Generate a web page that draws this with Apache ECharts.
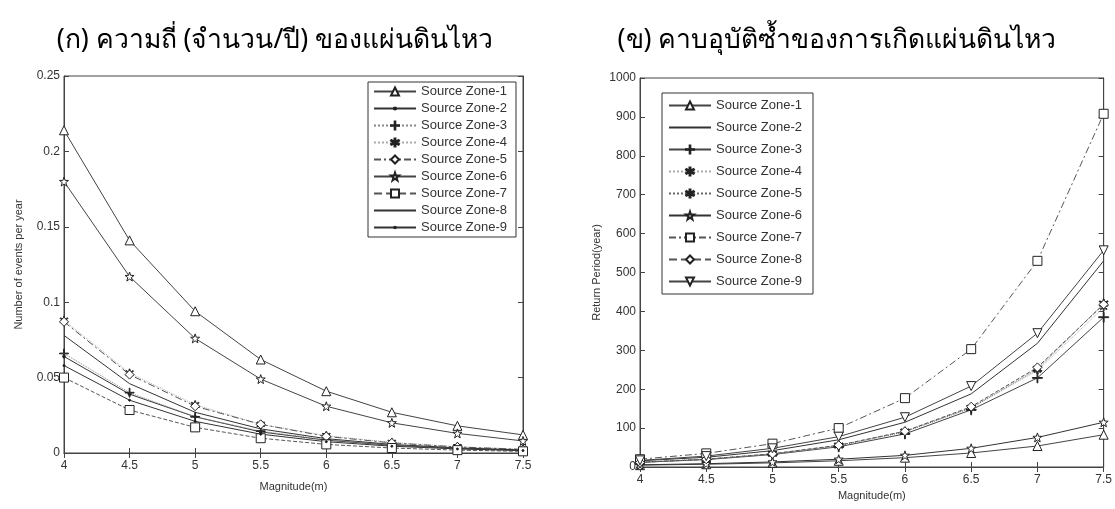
<!DOCTYPE html>
<html><head><meta charset="utf-8">
<script src="https://cdn.jsdelivr.net/npm/echarts@6/dist/echarts.min.js"></script>
<style>html,body{margin:0;padding:0;background:#fff}#c{width:1115px;height:509px}</style>
</head><body><div id="c"></div>
<script>
const magnitudes = [4, 4.5, 5, 5.5, 6, 6.5, 7, 7.5];
const zoneNames = ['Source Zone-1','Source Zone-2','Source Zone-3','Source Zone-4','Source Zone-5','Source Zone-6','Source Zone-7','Source Zone-8','Source Zone-9'];
const xTicks = [4, 4.5, 5, 5.5, 6, 6.5, 7, 7.5];
const leftYTicks = [0, 0.05, 0.1, 0.15, 0.2, 0.25];
const rightYTicks = [0, 100, 200, 300, 400, 500, 600, 700, 800, 900, 1000];

// (ก) frequency – events per year
const freqZone1 = [0.214, 0.141, 0.094, 0.062, 0.041, 0.027, 0.018, 0.012];
const freqZone2 = [0.064, 0.039, 0.024, 0.014, 0.0085, 0.0051, 0.003, 0.0018];
const freqZone3 = [0.066, 0.040, 0.024, 0.0145, 0.0087, 0.0052, 0.0031, 0.0019];
const freqZone4 = [0.088, 0.053, 0.032, 0.019, 0.0115, 0.007, 0.0042, 0.0025];
const freqZone5 = [0.087, 0.052, 0.031, 0.019, 0.011, 0.0067, 0.004, 0.0024];
const freqZone6 = [0.180, 0.117, 0.076, 0.049, 0.031, 0.020, 0.013, 0.008];
const freqZone7 = [0.050, 0.0285, 0.017, 0.0098, 0.0057, 0.0033, 0.0019, 0.0011];
const freqZone8 = [0.078, 0.046, 0.027, 0.016, 0.0095, 0.0057, 0.0034, 0.002];
const freqZone9 = [0.058, 0.035, 0.021, 0.0125, 0.0075, 0.0045, 0.0027, 0.0016];

// (ข) return period – years
const rpZone1 = [4.7, 7.1, 10.6, 16, 24, 36, 54, 83];
const rpZone2 = [16, 25, 42, 70, 115, 188, 318, 530];
const rpZone3 = [12, 19, 32, 52, 85, 147, 229, 385];
const rpZone4 = [12, 20, 33, 54, 90, 152, 248, 410];
const rpZone5 = [12, 20, 34, 55, 91, 152, 252, 420];
const rpZone6 = [5.6, 8.5, 13, 20, 30, 48, 76, 115];
const rpZone7 = [20, 35, 60, 100, 177, 303, 530, 908];
const rpZone8 = [12, 20, 34, 56, 92, 155, 256, 418];
const rpZone9 = [17, 28, 48, 78, 128, 208, 344, 557];

const freqData = [freqZone1,freqZone2,freqZone3,freqZone4,freqZone5,freqZone6,freqZone7,freqZone8,freqZone9];
const rpData = [rpZone1,rpZone2,rpZone3,rpZone4,rpZone5,rpZone6,rpZone7,rpZone8,rpZone9];

const STAR = 'path://M5,0 L6.2,3.6 L10,3.7 L7,6 L8.1,9.8 L5,7.6 L1.9,9.8 L3,6 L0,3.7 L3.8,3.6 Z';
const PLUS = 'path://M4.6,0 L5.4,0 L5.4,4.6 L10,4.6 L10,5.4 L5.4,5.4 L5.4,10 L4.6,10 L4.6,5.4 L0,5.4 L0,4.6 L4.6,4.6 Z';
const ASTER = 'path://M4.5,0 L5.5,0 L5.5,3.8 L8.8,1.9 L9.3,2.8 L6,4.9 L9.3,7 L8.8,7.9 L5.5,6 L5.5,10 L4.5,10 L4.5,6 L1.2,7.9 L0.7,7 L4,4.9 L0.7,2.8 L1.2,1.9 L4.5,3.8 Z';
const DOT = 'path://M0,0 M10,10 M3.6,5 A1.4,1.4 0 1 1 6.4,5 A1.4,1.4 0 1 1 3.6,5 Z';
const SMALLDOT = 'path://M0,0 M10,10 M4,5 A1,1 0 1 1 6,5 A1,1 0 1 1 4,5 Z';
const NOMARK = 'path://M0,0 M10,10';
const DASHDOT = [7, 3, 2, 3];

// style specs: [symbol, size, fill, lineType, lineColor, rotate]
const leftStyles = [
  ['triangle', 9, '#fff', 'solid', '#444', 0],
  [DOT, 10, '#111', 'solid', '#333', 0],
  [PLUS, 9, '#666', 'dotted', '#888', 0],
  [ASTER, 8, '#999', 'dotted', '#aaa', 0],
  ['diamond', 9, '#fff', DASHDOT, '#555', 0],
  [STAR, 9, '#fff', 'solid', '#444', 0],
  ['rect', 9, '#fff', 'dashed', '#555', 0],
  [NOMARK, 10, '#333', 'solid', '#333', 0],
  [SMALLDOT, 10, '#111', 'solid', '#333', 0]
];
const rightStyles = [
  ['triangle', 9, '#fff', 'solid', '#444', 0],
  [NOMARK, 10, '#333', 'solid', '#333', 0],
  [PLUS, 10, '#333', 'solid', '#444', 0],
  [ASTER, 7, '#aaa', 'dotted', '#aaa', 0],
  [ASTER, 9, '#222', 'dotted', '#666', 0],
  [STAR, 9, '#fff', 'solid', '#333', 0],
  ['rect', 9, '#fff', DASHDOT, '#555', 0],
  ['diamond', 9, '#fff', 'dashed', '#555', 0],
  ['triangle', 9, '#fff', 'solid', '#444', 180]
];

function mkSeries(data, styles, xi, yi, names) {
  return data.map((vals, i) => {
    const s = styles[i];
    return {
      name: names[i], type: 'line', xAxisIndex: xi, yAxisIndex: yi,
      data: magnitudes.map((m, k) => [m, vals[k]]),
      symbol: s[0], symbolSize: s[1], symbolRotate: s[5], showSymbol: true,
      smooth: false, animation: false,
      lineStyle: { color: s[4], width: 1, type: s[3] },
      itemStyle: { color: s[2], borderColor: '#222', borderWidth: 1 },
      emphasis: { disabled: true }
    };
  });
}

const FONT = 'Liberation Sans, Arial, sans-serif';
const axisCommon = {
  axisLine: { show: true, lineStyle: { color: '#444', width: 1 } },
  axisTick: { show: true, inside: true, length: 5, lineStyle: { color: '#444' } },
  splitLine: { show: false },
  axisLabel: { color: '#333', fontFamily: FONT, fontSize: 12 }
};
function xAx(gi, pos, labels) {
  return Object.assign({}, axisCommon, {
    type: 'value', gridIndex: gi, position: pos, min: 4, max: 7.5, interval: 0.5,
    name: labels ? 'Magnitude(m)' : '', nameLocation: 'middle', nameGap: labels ? (gi === 0 ? 28 : 23) : 0,
    nameTextStyle: { color: '#333', fontFamily: FONT, fontSize: 11 },
    axisLabel: Object.assign({}, axisCommon.axisLabel, { show: labels, margin: 7, showMaxLabel: true, showMinLabel: true })
  });
}
function yAx(gi, pos, labels, max, interval, name, gap) {
  return Object.assign({}, axisCommon, {
    type: 'value', gridIndex: gi, position: pos, min: 0, max: max, interval: interval,
    name: labels ? name : '', nameLocation: 'middle', nameGap: gap, nameRotate: 90,
    nameTextStyle: { color: '#333', fontFamily: FONT, fontSize: 11 },
    axisLabel: Object.assign({}, axisCommon.axisLabel, { show: labels, margin: 4,
      formatter: v => String(Number(v.toFixed(3))) })
  });
}

const rightNames = zoneNames.map(n => n + '\u200b');
const legendText = { color: '#333', fontFamily: FONT, fontSize: 13 };
const TITLE_FONT = 'Noto Sans, DejaVu Sans, sans-serif';
const option = {
  backgroundColor: '#fff',
  title: [
    { text: '(ก) ความถี่ (จำนวน/ปี) ของแผ่นดินไหว', left: 270, top: 22, textAlign: 'center',
      textStyle: { fontSize: 26.5, fontWeight: 'normal', color: '#000', fontFamily: TITLE_FONT } },
    { text: '(ข) คาบอุบัติซ้ำของการเกิดแผ่นดินไหว', left: 832, top: 22, textAlign: 'center',
      textStyle: { fontSize: 26.5, fontWeight: 'normal', color: '#000', fontFamily: TITLE_FONT } }
  ],
  grid: [
    { left: 64, top: 76, right: 592, bottom: 56, show: true, borderColor: '#444', borderWidth: 1, backgroundColor: '#fff' },
    { left: 640, top: 78, right: 10, bottom: 42, show: true, borderColor: '#444', borderWidth: 1, backgroundColor: '#fff' }
  ],
  xAxis: [xAx(0, 'bottom', true), xAx(0, 'top', false), xAx(1, 'bottom', true), xAx(1, 'top', false)],
  yAxis: [
    yAx(0, 'left', true, 0.25, 0.05, 'Number of events per year', 40),
    yAx(0, 'right', false, 0.25, 0.05, '', 0),
    yAx(1, 'left', true, 1000, 100, 'Return Period(year)', 38),
    yAx(1, 'right', false, 1000, 100, '', 0)
  ],
  legend: [
    { data: zoneNames, orient: 'vertical', left: 368, top: 82,
      itemWidth: 42, itemHeight: 10, itemGap: 4, padding: [3, 9, 3, 5],
      borderColor: '#333', borderWidth: 1, backgroundColor: '#fff',
      textStyle: legendText, selectedMode: false },
    { data: rightNames, orient: 'vertical', left: 662, top: 93,
      itemWidth: 42, itemHeight: 10, itemGap: 9, padding: [6, 11, 6, 6],
      borderColor: '#333', borderWidth: 1, backgroundColor: '#fff',
      textStyle: legendText, selectedMode: false,
      formatter: n => n.replace('\u200b', '') }
  ],
  series: mkSeries(freqData, leftStyles, 0, 0, zoneNames).concat(mkSeries(rpData, rightStyles, 2, 2, rightNames))
};
const chart = echarts.init(document.getElementById('c'), null, { renderer: 'canvas' });
chart.setOption(option);
</script></body></html>
